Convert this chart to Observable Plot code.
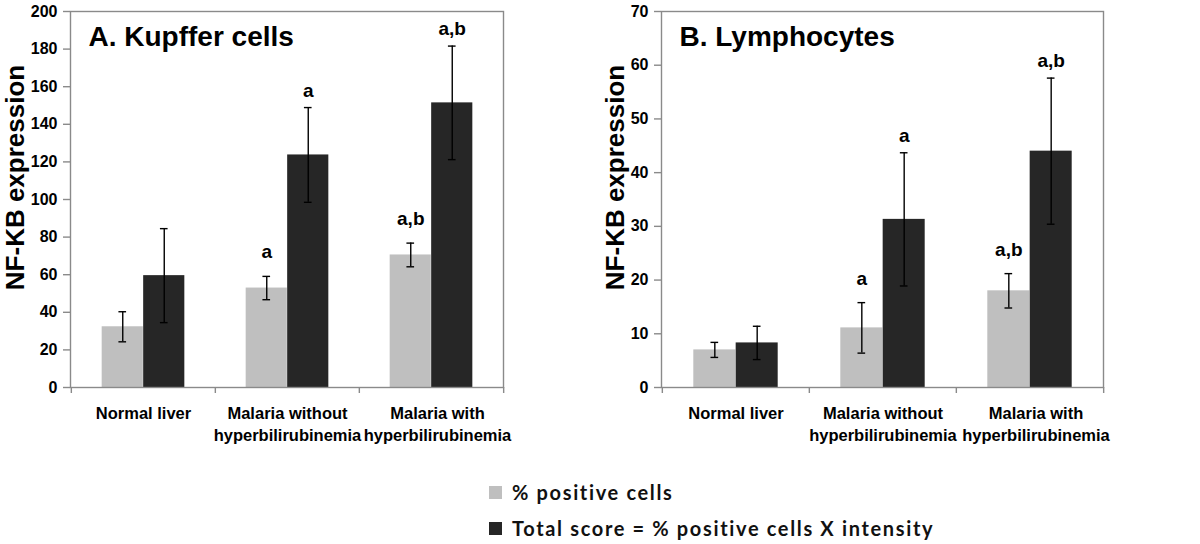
<!DOCTYPE html>
<html>
<head>
<meta charset="utf-8">
<script src="https://cdn.jsdelivr.net/npm/d3@7"></script>
<script src="https://cdn.jsdelivr.net/npm/@observablehq/plot@0.6"></script>
<style>
  html, body { margin: 0; padding: 0; background: #fff; }
  #charts { display: flex; width: 1200px; }
  #charts > div { width: 600px; }
  #legend { padding-top: 24px; margin-left: 489px; font-family: Lato, "Open Sans", sans-serif; font-weight: 700; color: #111; }
  .row { height: 36px; display: flex; align-items: center; font-size: 20px; letter-spacing: 1.65px; }
  .sw { width: 13px; height: 13px; margin-right: 10px; flex: none; }
</style>
</head>
<body>
<div id="charts"><div id="a"></div><div id="b"></div></div>
<div id="legend"></div>
<script>
// ---- data ----
const categories = ["Normal liver", "Malaria without hyperbilirubinemia", "Malaria with hyperbilirubinemia"];
const tickLabels = ["Normal liver", "Malaria without\nhyperbilirubinemia", "Malaria with\nhyperbilirubinemia"];
const seriesNames = ["% positive cells", "Total score = % positive cells X intensity"];
const seriesColors = ["#bfbfbf", "#262626"];

const kupfferPositive = [32.3, 52.9, 70.5];
const kupfferPositiveErr = [8.0, 6.2, 6.3];
const kupfferTotal = [59.5, 123.7, 151.4];
const kupfferTotalErr = [25.0, 25.2, 30.2];
const kupfferPositiveSig = ["", "a", "a,b"];
const kupfferTotalSig = ["", "a", "a,b"];
const kupfferTicks = [0, 20, 40, 60, 80, 100, 120, 140, 160, 180, 200];

const lymphPositive = [7.0, 11.1, 18.0];
const lymphPositiveErr = [1.4, 4.7, 3.2];
const lymphTotal = [8.3, 31.3, 44.0];
const lymphTotalErr = [3.1, 12.4, 13.6];
const lymphPositiveSig = ["", "a", "a,b"];
const lymphTotalSig = ["", "a", "a,b"];
const lymphTicks = [0, 10, 20, 30, 40, 50, 60, 70];

const yTitle = "NF-KB expression";

function rows(values, errs, sig) {
  return categories.map((c, i) => ({cat: c, value: values[i], err: errs[i], sig: sig[i]}));
}

function panel({title, pos, tot, ticks, marginLeft, titleX}) {
  const width = 600, height = 450, marginRight = 97, marginTop = 11, marginBottom = 63;
  const bw = (width - marginLeft - marginRight) / categories.length;
  const w = 0.2875 * bw;
  const gray = "#8a8a8a";
  const sets = [
    {data: pos, fill: seriesColors[0], off: -w / 2, iL: bw / 2 - w, iR: bw / 2, ldy: -18},
    {data: tot, fill: seriesColors[1], off: w / 2, iL: bw / 2, iR: bw / 2 - w, ldy: -11}
  ];
  const marks = [];
  for (const s of sets) {
    marks.push(Plot.barY(s.data, {x: "cat", y: "value", fill: s.fill, insetLeft: s.iL, insetRight: s.iR}));
  }
  for (const s of sets) {
    marks.push(Plot.ruleX(s.data, {x: "cat", y1: d => d.value - d.err, y2: d => d.value + d.err, dx: s.off, stroke: "#000", strokeWidth: 1.4}));
    marks.push(Plot.tickY(s.data, {x: "cat", y: d => d.value - d.err, dx: s.off, insetLeft: bw / 2 - 4, insetRight: bw / 2 - 4, stroke: "#000", strokeWidth: 1.4}));
    marks.push(Plot.tickY(s.data, {x: "cat", y: d => d.value + d.err, dx: s.off, insetLeft: bw / 2 - 4, insetRight: bw / 2 - 4, stroke: "#000", strokeWidth: 1.4}));
    marks.push(Plot.text(s.data, {x: "cat", y: d => d.value + d.err, text: "sig", dx: s.off, dy: s.ldy, lineAnchor: "bottom", fontSize: 19, fontWeight: "bold", fill: "#000"}));
  }
  marks.push(Plot.frame({stroke: gray, strokeWidth: 1.4}));
  marks.push(Plot.ruleX(categories, {x: d => d, y1: 0, y2: 0, dx: -bw / 2, insetBottom: -6, stroke: gray, strokeWidth: 1.4}));
  marks.push(Plot.ruleX(categories.slice(-1), {x: d => d, y1: 0, y2: 0, dx: bw / 2, insetBottom: -6, stroke: gray, strokeWidth: 1.4}));
  marks.push(Plot.axisY({ticks, tickSize: 7, tickPadding: 6, stroke: gray, strokeWidth: 1.4, fontSize: 16, fontWeight: "bold", label: null}));
  const xfmt = d => tickLabels[categories.indexOf(d)];
  marks.push(Plot.axisX({ticks: categories.slice(0, 2), tickSize: 0, tickPadding: 16, fontSize: 16.5, fontWeight: "bold", lineHeight: 1.33, tickFormat: xfmt, label: null}));
  marks.push(Plot.axisX({ticks: categories.slice(2), tickSize: 0, tickPadding: 16, dx: 6, fontSize: 16.5, fontWeight: "bold", lineHeight: 1.33, tickFormat: xfmt, label: null}));
  marks.push(Plot.text([yTitle], {frameAnchor: "left", text: d => d, rotate: -90, dx: titleX - marginLeft, dy: -22, fontSize: 26, fontWeight: "bold", textAnchor: "middle", lineAnchor: "middle", fill: "#000"}));
  marks.push(Plot.text([title], {frameAnchor: "top-left", text: d => d, dx: 18, dy: 15, fontSize: 28, fontWeight: "bold", textAnchor: "start", lineAnchor: "top", fill: "#000"}));
  return Plot.plot({
    width, height, marginLeft, marginRight, marginTop, marginBottom,
    style: {fontFamily: "'Liberation Sans', Arial, sans-serif", fontWeight: "bold", color: "#000", background: "transparent", overflow: "visible"},
    x: {type: "band", domain: categories, paddingInner: 0, paddingOuter: 0, axis: null},
    y: {domain: [0, ticks[ticks.length - 1]], axis: null},
    marks
  });
}

document.getElementById("a").append(panel({
  title: "A. Kupffer cells",
  pos: rows(kupfferPositive, kupfferPositiveErr, kupfferPositiveSig),
  tot: rows(kupfferTotal, kupfferTotalErr, kupfferTotalSig),
  ticks: kupfferTicks, marginLeft: 70, titleX: 15
}));
document.getElementById("b").append(panel({
  title: "B. Lymphocytes",
  pos: rows(lymphPositive, lymphPositiveErr, lymphPositiveSig),
  tot: rows(lymphTotal, lymphTotalErr, lymphTotalSig),
  ticks: lymphTicks, marginLeft: 61, titleX: 15
}));

const legend = document.getElementById("legend");
seriesNames.forEach((name, i) => {
  const row = document.createElement("div");
  row.className = "row";
  const sw = document.createElement("span");
  sw.className = "sw";
  sw.style.background = seriesColors[i];
  const t = document.createElement("span");
  t.textContent = name;
  row.append(sw, t);
  legend.append(row);
});
</script>
</body>
</html>
